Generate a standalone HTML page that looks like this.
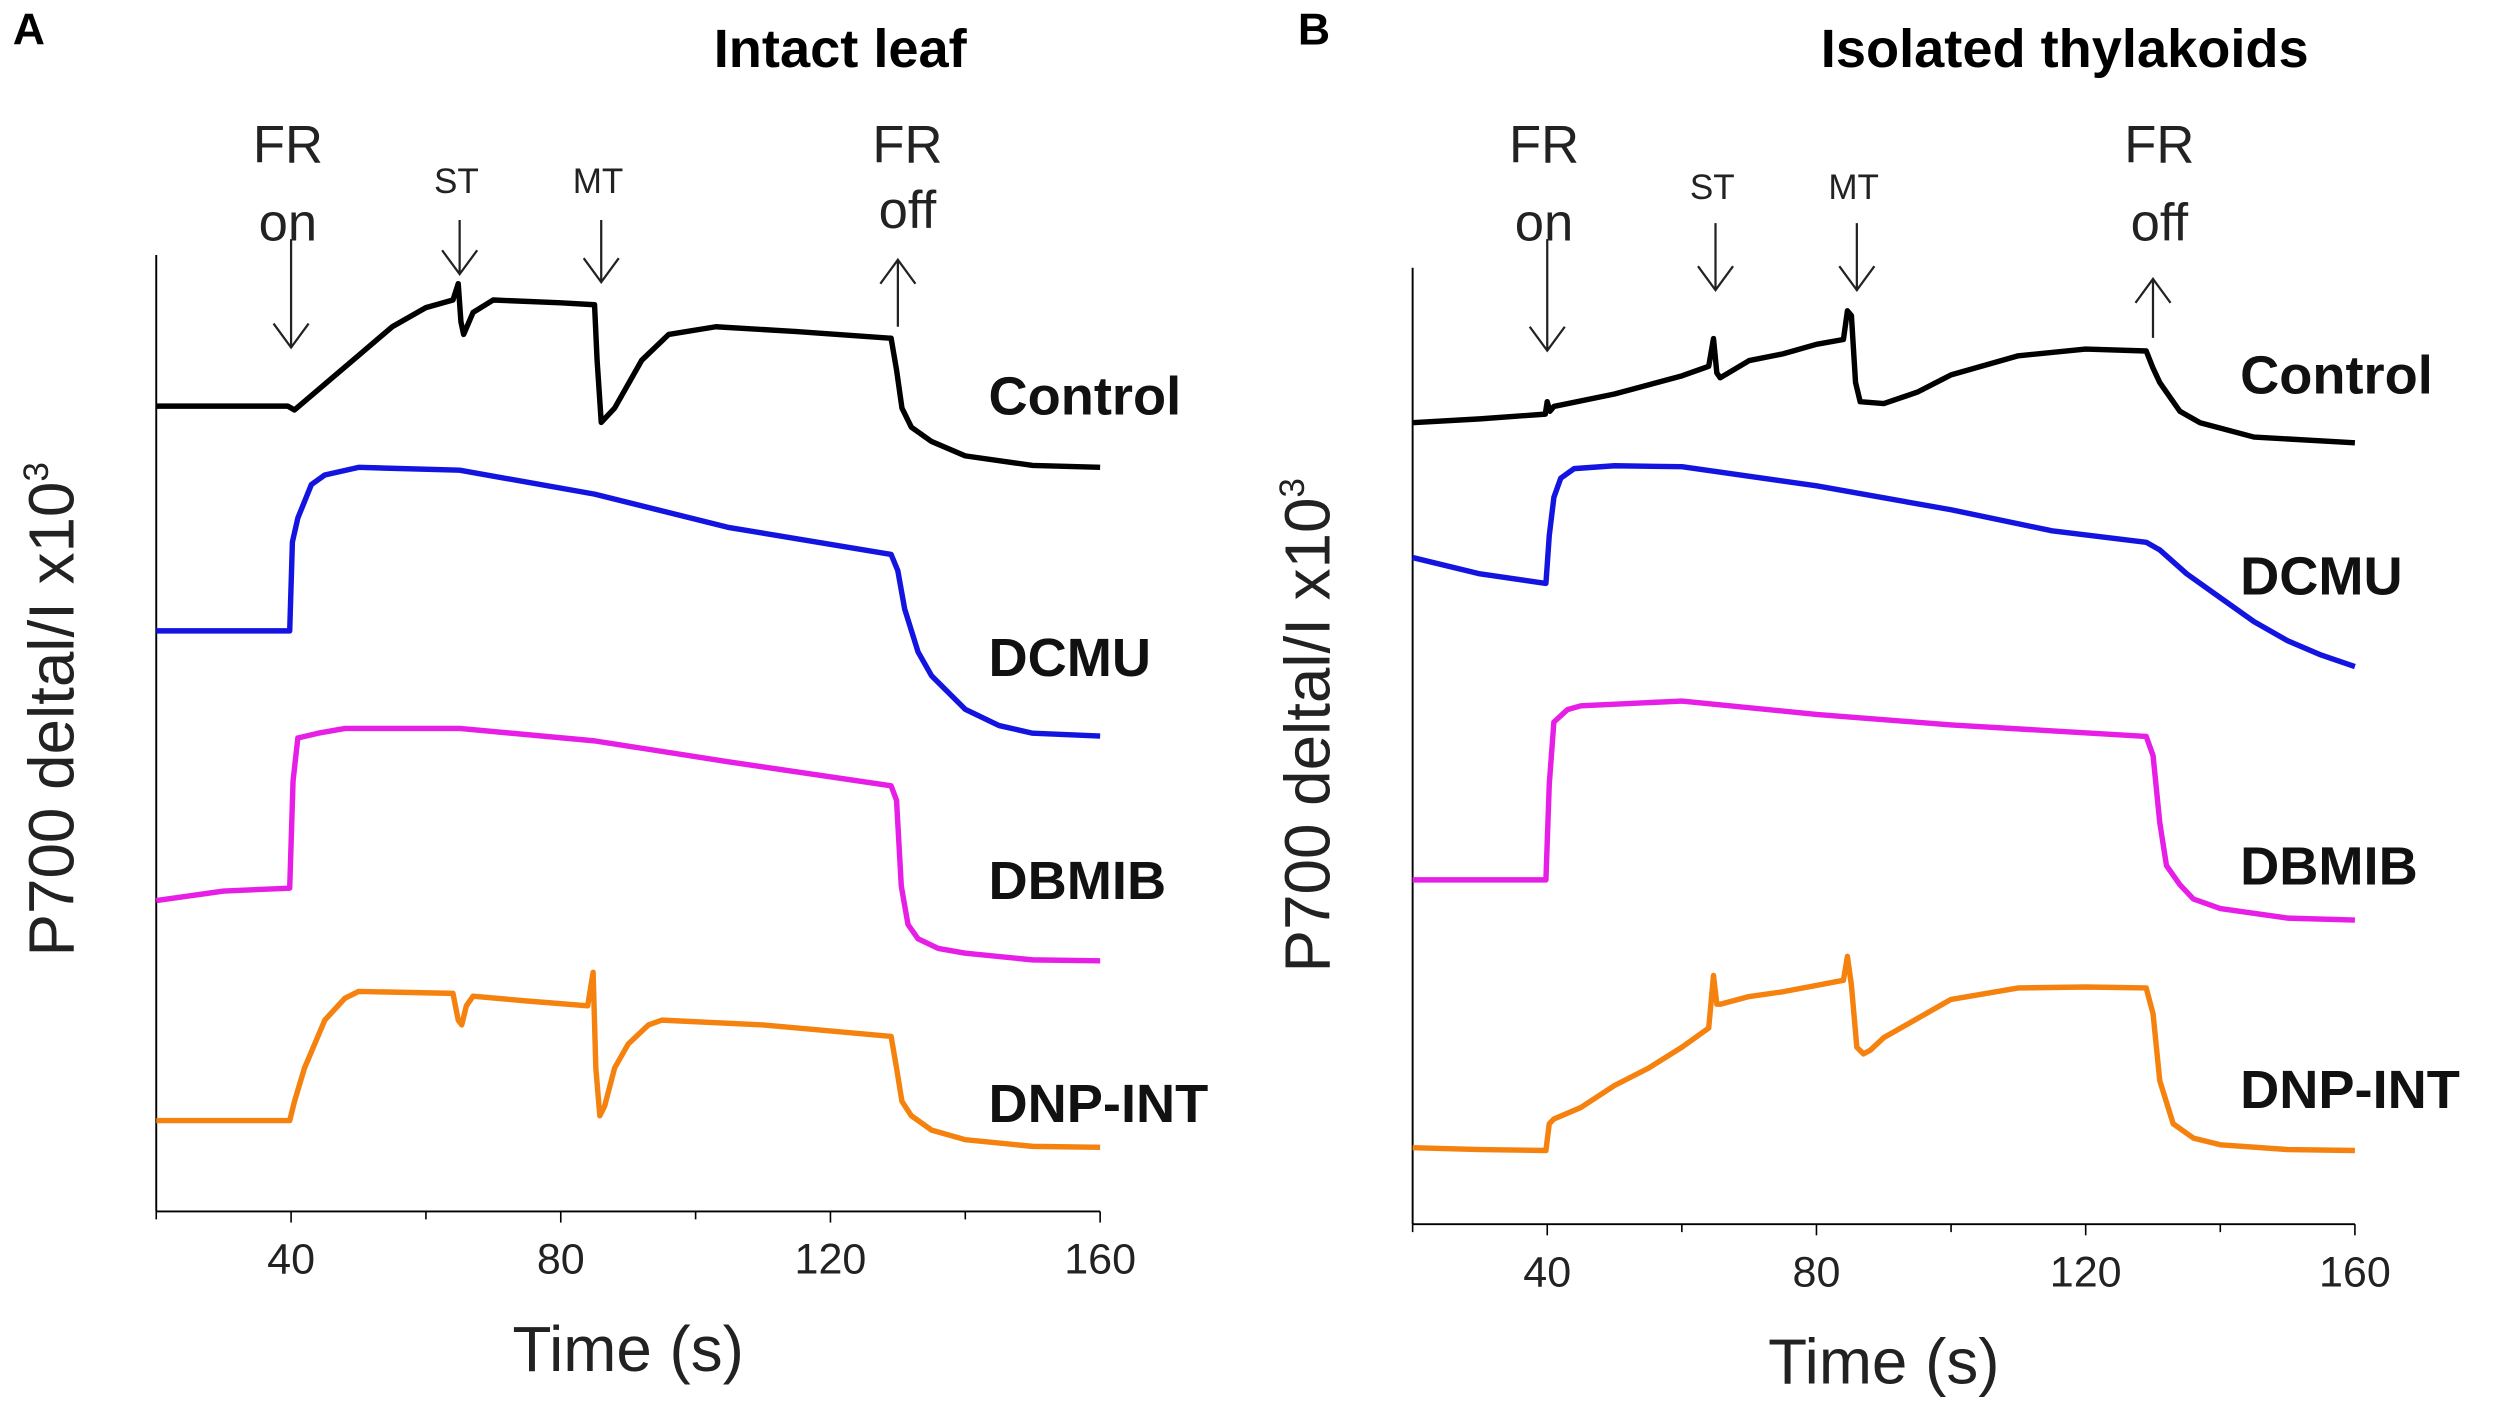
<!DOCTYPE html>
<html><head><meta charset="utf-8"><style>
html,body{margin:0;padding:0;background:#fff}
svg{display:block}
text{font-family:"Liberation Sans",sans-serif}
.bold{font-weight:bold}
</style></head><body>
<svg id="fig" width="2500" height="1425" viewBox="0 0 1568 894" preserveAspectRatio="none" xmlns="http://www.w3.org/2000/svg">
<rect width="1568" height="894" fill="#fff"/>
<text x="8" y="28" font-size="28" class="bold">A</text>
<text x="814" y="28" font-size="28" class="bold">B</text>
<text x="527" y="42" font-size="34" class="bold" text-anchor="middle">Intact leaf</text>
<text x="1295" y="42" font-size="34" class="bold" text-anchor="middle">Isolated thylakoids</text>
<g id="gA"></g>
<g id="gB"></g>
</svg>
<script>
const tickValues=[20,40,60,80,100,120,140,160];
const tickLabels=["40","80","120","160"];
const labelTicks=[40,80,120,160];
const seriesNames=["Control","DCMU","DBMIB","DNP-INT"];
const seriesColors=["#000000","#1414e0","#e61ee6","#f5820f"];
// panel A (value units 0..100 on hidden y axis)
const aT0=[20,39.5,40.5,45,50,55,60,64,64.8,65.2,65.6,67,70,80,85,85.4,86,88,92,96,103,115,129,129.8,130.6,132,135,140,150,160];
const aV0=[84.2,84.2,83.8,86.5,89.5,92.5,94.5,95.3,97,93,91.7,94,95.3,95,94.8,89,82.5,84,89,91.7,92.5,92,91.3,88,84,82,80.5,79,78,77.8];
const aT1=[20,39.8,40.2,41,43,45,50,65,85,105,129,130,131,133,135,140,145,150,160];
const aV1=[60.7,60.7,70,72.5,76,77,77.8,77.5,75,71.5,68.7,67,63,58.5,56,52.5,50.8,50,49.7];
const aT2=[20,30,39.8,40.3,41,44,48,65,85,105,129,129.8,130.5,131.5,133,136,140,150,160];
const aV2=[32.5,33.5,33.8,45,49.5,50,50.5,50.5,49.2,47,44.5,43,34,30,28.5,27.5,27,26.3,26.2];
const aT3=[20,39.8,40.5,42,45,48,50,64,64.8,65.3,66,67,75,84,84.8,85.2,85.8,86.5,88,90,93,95,110,129,129.8,130.6,132,135,140,150,160];
const aV3=[9.5,9.5,11.5,15,20,22.3,23,22.8,20,19.5,21.5,22.5,22,21.5,25,15,10,11,15,17.5,19.5,20,19.5,18.3,15,11.5,10,8.5,7.5,6.8,6.7];
// panel B
const bT0=[20,30,39.7,40,40.4,41,50,60,64,64.7,65.2,65.7,70,75,80,84,84.6,85.2,85.8,86.5,90,95,100,110,120,129,130,131,134,137,145,160];
const bV0=[83.8,84.2,84.7,86,85,85.5,86.8,88.7,89.7,92.6,89,88.5,90.3,91,92,92.5,95.5,95,88,86,85.8,87,88.8,90.8,91.5,91.3,89.5,88,85,83.8,82.3,81.7];
const bT1=[20,30,39.8,40.3,41,42,44,50,60,80,100,115,129,131,135,140,145,150,155,160];
const bV1=[69.7,68,67,72,76,78,79,79.3,79.2,77.2,74.7,72.5,71.3,70.5,68,65.5,63,61,59.5,58.3];
const bT2=[20,39.8,40.3,41,43,45,60,80,100,129,130,131,132,134,136,140,150,160];
const bV2=[36,36,46,52.5,53.8,54.2,54.7,53.3,52.2,51,49,42,37.5,35.5,34,33,32,31.8];
const bT3=[20,30,39.8,40.3,41,45,50,55,60,64,64.7,65.2,65.7,70,75,84,84.6,85.2,86,87,88,90,95,100,110,120,129,130,131,133,136,140,150,160];
const bV3=[8,7.8,7.7,10.5,11,12.2,14.5,16.3,18.5,20.5,26,23,23,23.8,24.3,25.5,28,25,18.5,17.8,18.2,19.5,21.5,23.5,24.7,24.8,24.7,22,15,10.5,9,8.3,7.8,7.7];

const NS="http://www.w3.org/2000/svg";
function mk(tag,attrs,parent){const e=document.createElementNS(NS,tag);for(const k in attrs)e.setAttribute(k,attrs[k]);parent.appendChild(e);return e;}

function drawPanel(g,cfg,ts,vs,prefix){
  const xs=t=>cfg.x0+(t-20)*(cfg.x1-cfg.x0)/140;
  const ys=v=>cfg.yb-(v/100)*(cfg.yb-cfg.yt);
  let e=mk('line',{x1:cfg.x0,y1:cfg.yt,x2:cfg.x0,y2:cfg.yb,stroke:'#000','stroke-width':1.2},g);
  
  
  e=mk('line',{x1:cfg.x0,y1:cfg.yb,x2:cfg.x1,y2:cfg.yb,stroke:'#000','stroke-width':1.2},g);
  
  
  tickValues.forEach(t=>{
    const big=labelTicks.includes(t);
    const tk=mk('line',{x1:xs(t),y1:cfg.yb,x2:xs(t),y2:cfg.yb+(big?7:5),stroke:'#000','stroke-width':1},g);
    
    
  });
  labelTicks.forEach((t,i)=>{
    const tx=mk('text',{x:xs(t),y:cfg.yb+39,'font-size':27,'text-anchor':'middle',fill:'#222'},g);
    tx.textContent=tickLabels[i];
    
    
  });
  let tl=mk('text',{x:(cfg.x0+cfg.x1)/2,y:cfg.yb+100,'font-size':40,'text-anchor':'middle',fill:'#222'},g);
  tl.textContent='Time (s)';
  
  
  const cy=cfg.ylabY, cx=cfg.x0-52;
  let yl=mk('text',{x:cx,y:cy,'font-size':40,'text-anchor':'middle',fill:'#222',transform:`rotate(-90 ${cx} ${cy})`},g);
  yl.innerHTML='P700 deltal/I x10<tspan font-size="22" dy="-16">3</tspan>';
  
  
  ts.forEach((T,i)=>{
    const d=T.map((t,j)=>(j?'L':'M')+xs(t).toFixed(1)+' '+ys(vs[i][j]).toFixed(1)).join(' ');
    const p=mk('path',{d:d,fill:'none',stroke:seriesColors[i],'stroke-width':3.4,'stroke-linejoin':'round'},g);
    
    
    const lab=mk('text',{x:cfg.labX,y:cfg.labY[i],'font-size':34,'font-weight':'bold',fill:'#111'},g);
    lab.textContent=seriesNames[i];
    
    
  });
  cfg.ann.forEach(a=>{
    const x=xs(a.t);
    a.lines.forEach((s,k)=>{
      const t=mk('text',{x:x-2+(a.dx||0),y:a.ty[k],'font-size':a.fs,'text-anchor':'middle',fill:'#222'},g);
      t.textContent=s;
      
      
    });
    const dirDown=a.y2>a.y1;
    const h=dirDown?-1:1;
    const ar=mk('path',{d:`M${x} ${a.y1} L${x} ${a.y2} M${x-11} ${a.y2+h*15} L${x} ${a.y2} L${x+11} ${a.y2+h*15}`,fill:'none',stroke:'#222','stroke-width':1.4},g);
    
    
  });
}
drawPanel(document.getElementById('gA'),{x0:98,x1:690,yt:160,yb:760,labX:620,labY:[260,424,564,704],ylabY:445,
  ann:[{id:'fr-on',t:40,lines:['FR','on'],ty:[102,151],fs:33,y1:150,y2:218},
       {id:'st',t:65,lines:['ST'],ty:[121],fs:22,y1:138,y2:172},
       {id:'mt',t:86,lines:['MT'],ty:[121],fs:22,y1:138,y2:177},
       {id:'fr-off',t:130,dx:8,lines:['FR','off'],ty:[102,143],fs:33,y1:205,y2:163}]},
  [aT0,aT1,aT2,aT3],[aV0,aV1,aV2,aV3],'panel-a');
drawPanel(document.getElementById('gB'),{x0:886,x1:1477,yt:168,yb:768,labX:1405,labY:[247,373,555,695],ylabY:455,
  ann:[{id:'fr-on',t:40,lines:['FR','on'],ty:[102,151],fs:33,y1:150,y2:220},
       {id:'st',t:65,lines:['ST'],ty:[125],fs:22,y1:140,y2:182},
       {id:'mt',t:86,lines:['MT'],ty:[125],fs:22,y1:140,y2:182},
       {id:'fr-off',t:130,dx:6,lines:['FR','off'],ty:[102,151],fs:33,y1:212,y2:175}]},
  [bT0,bT1,bT2,bT3],[bV0,bV1,bV2,bV3],'panel-b');
</script>
</body></html>
